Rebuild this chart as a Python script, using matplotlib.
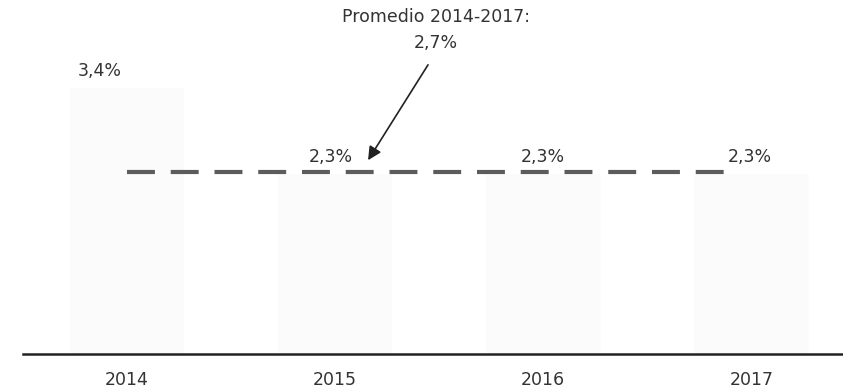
import matplotlib
matplotlib.use("Agg")
import matplotlib.pyplot as plt

# data
years = ["2014", "2015", "2016", "2017"]
growth = [3.4, 2.3, 2.3, 2.3]
labels = ["3,4%", "2,3%", "2,3%", "2,3%"]
avg_text = "Promedio 2014-2017:\n2,7%"
avg_line_level = 2.33   # where the dashed line sits in the picture

plt.rcParams['font.family'] = ['DejaVu Sans']

fig = plt.figure(figsize=(8.43, 3.92), dpi=100)
ax = fig.add_axes([0.0273, 0.097, 0.9727, 0.903])

x = range(len(years))
ax.bar(x, growth, width=0.55, color="#fbfbfb", zorder=1)

# dashed average line
ax.plot([0, 2.89], [avg_line_level, avg_line_level], color="#5c5c5c",
        lw=3, dashes=(6.7, 3.8), zorder=2)

# value labels
offsets = [-0.13, -0.02, 0.0, -0.01]
for i, (v, lab) in enumerate(zip(growth, labels)):
    ax.text(i + offsets[i], v + 0.11, lab, ha="center", va="bottom",
            fontsize=12.5, color="#333333")

# annotation text + arrow
ax.text(1.485, 4.43, avg_text, ha="center", va="top", fontsize=12.5,
        color="#333333", linespacing=1.55)
ax.annotate("", xy=(1.158, 2.48), xytext=(1.446, 3.70),
            arrowprops=dict(arrowstyle="-|>", color="#222222", lw=1.2,
                            mutation_scale=20, shrinkA=0, shrinkB=0))

ax.set_xlim(-0.5, 3.44)
ax.set_ylim(0, 4.53)
for s in ["top", "right", "left"]:
    ax.spines[s].set_visible(False)
ax.spines["bottom"].set_color("#222222")
ax.spines["bottom"].set_linewidth(1.8)
ax.set_yticks([])
ax.set_xticks(list(x))
ax.set_xticklabels(years, fontsize=12.5, color="#333333")
ax.tick_params(axis="x", length=0, pad=12)

fig.savefig("out.png", dpi=100)
